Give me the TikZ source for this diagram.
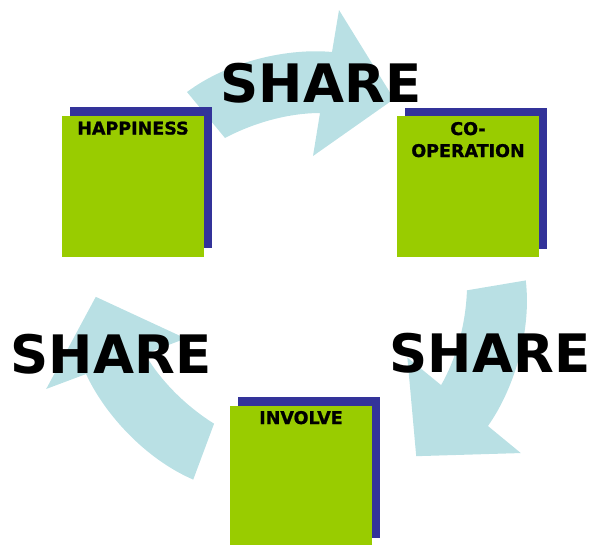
\documentclass[tikz,border=0pt]{standalone}
\usepackage{fontspec}
\setmainfont{DejaVu Sans}
\newfontfamily\labelfont{DejaVu Sans Bold}[FakeBold=1.2]
\definecolor{arrowblue}{RGB}{185,224,228}
\definecolor{boxgreen}{RGB}{153,204,0}
\definecolor{shadowblue}{RGB}{51,51,153}
\begin{document}
\begin{tikzpicture}[x=1pt,y=-1pt,
  greenbox/.style={fill=boxgreen, draw=none, minimum width=142pt, minimum height=141pt, inner sep=0pt, anchor=north west},
  shadowbox/.style={fill=shadowblue, draw=none, minimum width=142pt, minimum height=141pt, inner sep=0pt, anchor=north west},
  boxlabel/.style={font=\fontsize{17.5}{22}\labelfont, anchor=base, inner sep=0pt, text=black},
  sharetext/.style={font=\fontsize{53}{60}\selectfont\bfseries, anchor=base, inner sep=0pt, text=black},
  arrowshape/.style={fill=arrowblue, draw=none}]
\useasboundingbox (0,0) rectangle (593,544);
\clip (0,0) rectangle (593,544);
\def\arrowpath{(187,92) .. controls (230,60) and (290,48) .. (332,52) -- (339,10) -- (394,99) -- (313,156) -- (320,113) .. controls (290,113) and (255,122) .. (225,138) -- cycle}
% arrows
\coordinate (centre) at (302,284);
\fill[arrowshape] \arrowpath;
\fill[arrowshape, rotate around={-120:(centre)}] \arrowpath;
\fill[arrowshape, rotate around={-240:(centre)}] \arrowpath;
% boxes
\node[shadowbox] (happyshadow) at (70,107) {};
\node[greenbox] (happy) at (62,116) {};
\node[shadowbox] (coopshadow) at (405,108) {};
\node[greenbox] (coop) at (397,116) {};
\node[shadowbox] (involveshadow) at (238,397) {};
\node[greenbox] (involve) at (230,406) {};
% labels
\node[boxlabel] (happytext) at (133,134.5) {HAPPINESS};
\node[boxlabel] (cotext) at (468,135) {CO-};
\node[boxlabel] (operationtext) at (468,157) {OPERATION};
\node[boxlabel] (involvetext) at (301,424) {INVOLVE};
% share texts
\node[sharetext] (sharetop) at (321,102) {SHARE};
\node[sharetext] (shareleft) at (111,373) {SHARE};
\node[sharetext] (shareright) at (490,372) {SHARE};
\end{tikzpicture}
\end{document}
